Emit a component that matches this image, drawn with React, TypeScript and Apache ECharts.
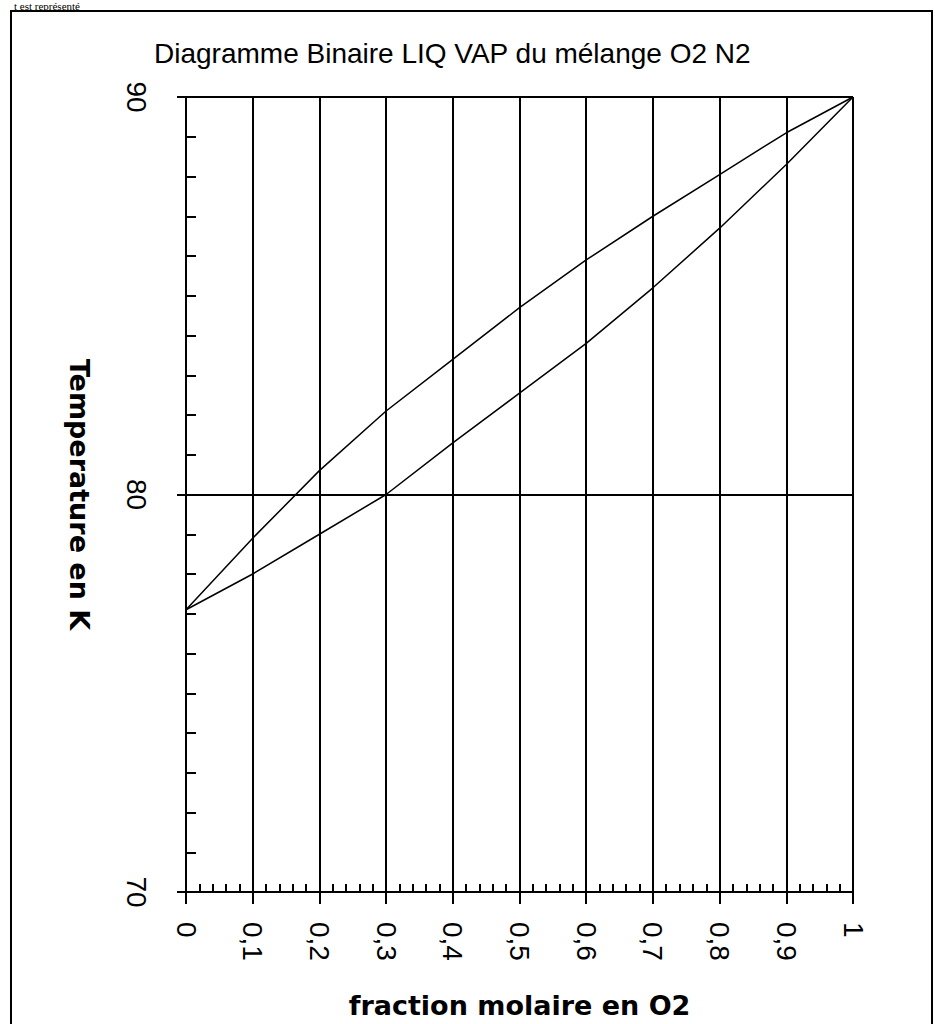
import React, { useEffect, useRef } from "react";
import * as echarts from "echarts";

const xFractions = [0, 0.1, 0.2, 0.3, 0.4, 0.5, 0.6, 0.7, 0.8, 0.9, 1];
const vaporTemps = [77.1, 78.9, 80.6, 82.1, 83.4, 84.7, 85.9, 87.0, 88.05, 89.1, 90];
const liquidTemps = [77.1, 78.0, 79.0, 80.0, 81.3, 82.55, 83.8, 85.2, 86.7, 88.3, 90];
const titleText = "Diagramme Binaire LIQ VAP du mélange O2 N2";
const xName = "fraction molaire en O2";
const yName = "Temperature en K";
const topText = "t est représenté";

const fmtX = (v: number) => String(Math.round(v * 10) / 10).replace(".", ",");

export default function App() {
  const ref = useRef<HTMLDivElement>(null);
  useEffect(() => {
    if (!ref.current) return;
    const chart = echarts.init(ref.current, undefined, { renderer: "svg" });
    const black = "#000";
    chart.setOption({
      animation: false,
      backgroundColor: "#fff",
      title: {
        text: titleText,
        left: 154,
        top: 39,
        padding: 0,
        textStyle: { fontFamily: "Liberation Sans", fontSize: 28, fontWeight: "normal", color: black },
      },
      grid: { left: 186, right: 82, top: 97, bottom: 130 },
      xAxis: {
        type: "value",
        min: 0,
        max: 1,
        interval: 0.1,
        axisLine: { lineStyle: { color: black, width: 2 } },
        axisTick: { length: 12, lineStyle: { color: black, width: 2 } },
        minorTick: { show: true, splitNumber: 5, length: -8, lineStyle: { color: black, width: 2 } },
        splitLine: { show: true, lineStyle: { color: black, width: 2 } },
        axisLabel: {
          rotate: -90,
          margin: 30,
          formatter: fmtX,
          fontFamily: "Liberation Sans",
          fontSize: 28,
          color: black,
        },
        name: xName,
        nameLocation: "middle",
        nameGap: 100,
        nameTextStyle: { fontFamily: "DejaVu Sans", fontWeight: "bold", fontSize: 27, color: black },
      },
      yAxis: {
        type: "value",
        min: 70,
        max: 90,
        interval: 10,
        axisLine: { show: true, lineStyle: { color: black, width: 2 } },
        axisTick: { show: true, length: 9, lineStyle: { color: black, width: 2 } },
        minorTick: { show: true, splitNumber: 10, length: -10, lineStyle: { color: black, width: 2 } },
        splitLine: { show: true, lineStyle: { color: black, width: 2 } },
        axisLabel: {
          rotate: -90,
          margin: 36,
          fontFamily: "Liberation Sans",
          fontSize: 28,
          color: black,
        },
        name: yName,
        nameLocation: "middle",
        nameRotate: -90,
        nameGap: 93,
        nameTextStyle: { fontFamily: "DejaVu Sans", fontWeight: "bold", fontSize: 27, color: black },
      },
      series: [
        {
          type: "line",
          data: xFractions.map((x, i) => [x, vaporTemps[i]]),
          symbol: "none",
          lineStyle: { color: black, width: 1.5 },
        },
        {
          type: "line",
          data: xFractions.map((x, i) => [x, liquidTemps[i]]),
          symbol: "none",
          lineStyle: { color: black, width: 1.5 },
        },
      ],
      graphic: [
        {
          type: "rect",
          shape: { x: 11, y: 11, width: 921, height: 1030 },
          style: { fill: "none", stroke: black, lineWidth: 2 },
          silent: true,
        },
        {
          type: "text",
          x: 14,
          y: 0,
          style: {
            text: topText,
            font: '11px "Liberation Serif"',
            fill: black,
            verticalAlign: "top",
          },
          silent: true,
        },
      ],
    });
    return () => chart.dispose();
  }, []);
  return (
    <div
      ref={ref}
      style={{ position: "fixed", left: 0, top: 0, width: 935, height: 1024, background: "#fff" }}
    />
  );
}
